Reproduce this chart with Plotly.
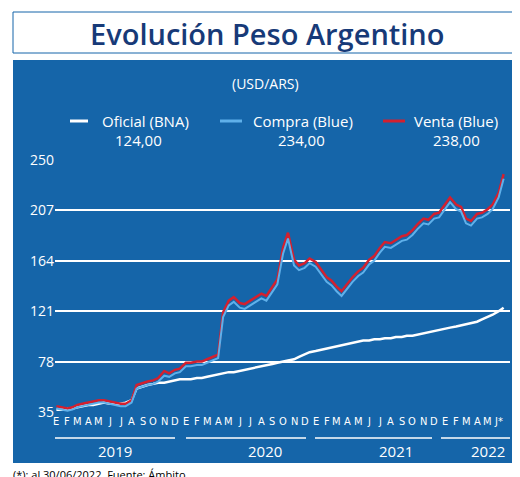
import plotly.graph_objects as go
import pandas as pd

dates = pd.date_range("2019-01-01", periods=84, freq="SMS")
venta = [40,39,38,39,41,42,43,44,45,45,44,43,42,42,45,58,60,61,62,64,70,68,71,72,
         77,77,78,78,80,82,84,120,130,133,128,127,130,133,136,134,142,148,175,188,165,160,162,166,
         163,157,150,147,142,138,145,150,155,158,165,168,175,180,179,182,185,186,190,195,200,199,204,205,
         212,218,212,210,200,198,204,205,208,212,222,238]
compra = [38,37,36,37,39,40,41,42,43,43,42,41,40,40,43,55,57,58,59,61,66,65,68,69,
          74,74,75,75,77,79,81,116,126,129,124,123,126,129,132,130,138,144,170,183,160,156,158,162,
          159,153,146,143,138,134,141,146,151,154,161,164,171,176,175,178,181,182,186,191,196,195,200,201,
          208,214,208,206,196,194,200,201,204,208,218,234]
oficial = [37,37,38,38,39,40,41,41,42,43,42,42,42,43,45,55,57,58,59,60,60,61,62,63,
           63,63,64,64,65,66,67,68,69,69,70,71,72,73,74,75,76,77,78,79,80,82,84,86,
           87,88,89,90,91,92,93,94,95,96,96,97,97,98,98,99,99,100,100,101,102,103,104,105,
           106,107,108,109,110,111,112,114,116,118,121,124]
month_labels = list("EFMAMJJASOND")*3 + ["E","F","M","A","M","J*"]
years = ["2019","2020","2021","2022"]
yticks = [35,78,121,164,207,250]
legend_names = ["Oficial (BNA)","Compra (Blue)","Venta (Blue)"]
legend_values = ["124,00","234,00","238,00"]
colors = ["white","#5fb0ea","#d3202f"]

fig = go.Figure()
fig.add_trace(go.Scatter(x=dates, y=oficial, mode="lines", line=dict(color=colors[0], width=2.5)))
fig.add_trace(go.Scatter(x=dates, y=venta, mode="lines", line=dict(color=colors[2], width=2.5)))
fig.add_trace(go.Scatter(x=dates, y=compra, mode="lines", line=dict(color=colors[1], width=2)))

mtick = pd.date_range("2019-01-01", periods=42, freq="MS")
def px(p): return (p-47)/455
def py(p): return (404-p)/252

def A(text, x, y, size, color="white", xref="paper", family=None, xanchor="center", weight=None):
    f = dict(size=size, color=color)
    if family: f["family"] = family
    if weight: f["weight"] = weight
    return dict(text=text, x=x, xref=xref, y=y, yref="paper", showarrow=False,
                xanchor=xanchor, yanchor="middle", font=f)

shapes = [dict(type="rect", xref="paper", yref="paper", x0=px(5), x1=px(513), y0=py(455), y1=py(52),
               fillcolor="#1565a9", line=dict(width=0), layer="below"),
          dict(type="rect", xref="paper", yref="paper", x0=px(5), x1=px(513), y0=py(45), y1=py(4),
               fillcolor="white", line=dict(color="#1565a9", width=1), layer="below")]
ann = [A("Evolución Peso Argentino", px(259), py(25), 29, "#173a78", weight=600),
       A("(USD/ARS)", px(257), py(75), 14),
       A("(*): al 30/06/2022. Fuente: Ámbito.", px(3), py(466), 11, "black", xanchor="left")]
leg_x = [(62,80,137,130),(212,234,295,293),(375,397,448,448)]
for i,(a,b,t,v) in enumerate(leg_x):
    shapes.append(dict(type="line", xref="paper", yref="paper", x0=px(a), x1=px(b), y0=py(113), y1=py(113),
                       line=dict(color=colors[i], width=3)))
    ann.append(A(legend_names[i], px(t), py(113), 15))
    ann.append(A(legend_values[i], px(v), py(132), 15))
for d,l in zip(mtick, month_labels):
    ann.append(A(l, d, py(413), 11, xref="x", family="DejaVu Sans Condensed"))
yr = [(47,167,107),(178,298,257),(307,424,388),(433,502,480)]
for y,(a,b,t) in zip(years, yr):
    shapes.append(dict(type="line", xref="paper", yref="paper", x0=px(a), x1=px(b), y0=py(430), y1=py(430),
                       line=dict(color="white", width=1.5)))
    ann.append(A(y, px(t), py(443), 15))

fig.update_layout(width=520, height=477, margin=dict(l=47, r=18, t=152, b=73),
                  paper_bgcolor="white", plot_bgcolor="#1565a9", showlegend=False,
                  shapes=shapes, annotations=ann, font=dict(family="Open Sans"))
fig.update_xaxes(range=[pd.Timestamp("2018-12-28"), pd.Timestamp("2022-07-03")], showticklabels=False,
                 showgrid=False, zeroline=False)
fig.update_yaxes(range=[35,250], tickvals=yticks, gridcolor="white", gridwidth=1.5, zeroline=False,
                 tickfont=dict(size=14, color="white"), ticks="", showline=False)
fig.write_html("out.html")
